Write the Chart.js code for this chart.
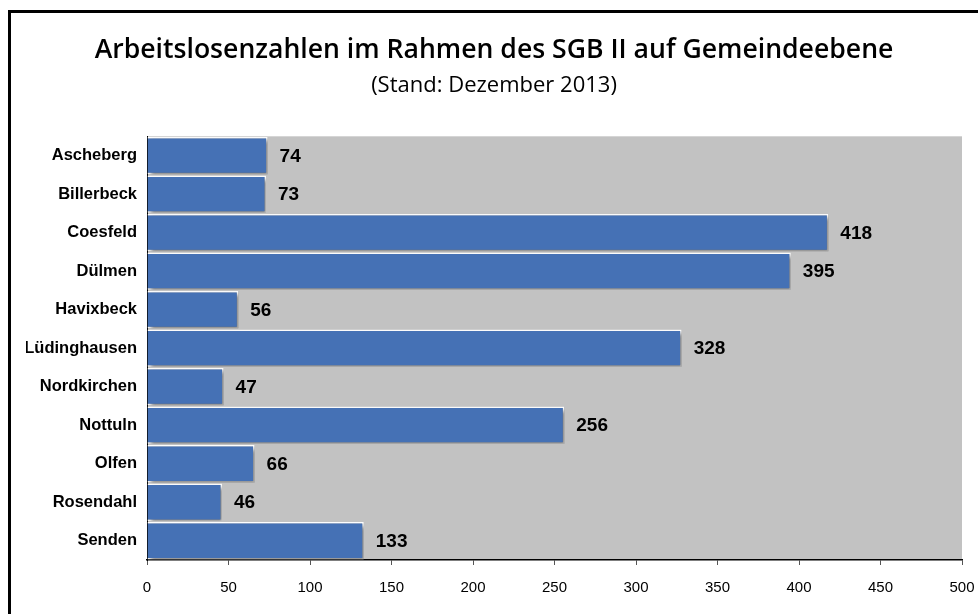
<!DOCTYPE html>
<html>
<head>
<meta charset="utf-8">
<script src="https://cdn.jsdelivr.net/npm/chart.js@4"></script>
<style>
  html, body { margin: 0; padding: 0; background: #fff; }
  #wrap { width: 978px; height: 614px; position: relative; }
</style>
</head>
<body>
<div id="wrap"><canvas id="chart" width="978" height="614"></canvas></div>
<script>
// Arbeitslosenzahlen SGB II, Gemeinden Kreis Coesfeld, Dezember 2013
const GEMEINDEN = ["Ascheberg", "Billerbeck", "Coesfeld", "Dülmen", "Havixbeck", "Lüdinghausen",
  "Nordkirchen", "Nottuln", "Olfen", "Rosendahl", "Senden"];
const ARBEITSLOSE = [74, 73, 418, 395, 56, 328, 47, 256, 66, 46, 133];
const X_MIN = 0, X_MAX = 500, X_STEP = 50;

const TITLE = "Arbeitslosenzahlen im Rahmen des SGB II auf Gemeindeebene";
const SUBTITLE = "(Stand: Dezember 2013)";

const BAR_BLUE = "#4571b5";
const PLOT_GRAY = "#c2c2c2";

// Rahmen + grauer Plotbereich
const background = {
  id: "background",
  beforeDraw(chart) {
    const { ctx, chartArea: a } = chart;
    ctx.save();
    ctx.fillStyle = PLOT_GRAY;
    ctx.fillRect(a.left, a.top, a.right - a.left, a.bottom - a.top);
    ctx.strokeStyle = "#000";
    ctx.lineWidth = 3;
    ctx.strokeRect(9.5, 11.5, 1200, 800);
    ctx.restore();
  },
};

// Schatten unter den Balken
const barShadow = {
  id: "barShadow",
  beforeDatasetsDraw(chart) {
    const ctx = chart.ctx;
    ctx.save();
    ctx.shadowColor = "rgba(0,0,0,0.45)";
    ctx.shadowBlur = 4;
    ctx.shadowOffsetX = 3;
    ctx.shadowOffsetY = 3;
  },
  afterDatasetsDraw(chart) {
    chart.ctx.restore();
  },
};

// Werte rechts neben den Balken
const valueLabels = {
  id: "valueLabels",
  afterDatasetsDraw(chart) {
    const { ctx } = chart;
    const meta = chart.getDatasetMeta(0);
    ctx.save();
    ctx.font = "bold 19px 'Liberation Sans', Arial, sans-serif";
    ctx.fillStyle = "#000";
    ctx.textAlign = "left";
    ctx.textBaseline = "middle";
    meta.data.forEach((bar, i) => {
      ctx.fillText(String(ARBEITSLOSE[i]), bar.x + 12, bar.y + 1);
    });
    ctx.restore();
  },
};

new Chart(document.getElementById("chart"), {
  type: "bar",
  data: {
    labels: GEMEINDEN,
    datasets: [{
      data: ARBEITSLOSE,
      backgroundColor: BAR_BLUE,
      borderColor: "#ffffff",
      borderWidth: 1.5,
      borderSkipped: "start",
      categoryPercentage: 1.0,
      barPercentage: 0.97,
    }],
  },
  options: {
    indexAxis: "y",
    responsive: false,
    animation: false,
    layout: { padding: { left: 26, right: 16, top: 0, bottom: 0 } },
    plugins: {
      legend: { display: false },
      tooltip: { enabled: false },
      title: {
        display: true,
        text: TITLE,
        color: "#000",
        font: { family: "'Open Sans', sans-serif", size: 26.6, weight: "600", lineHeight: 1.2 },
        padding: { top: 34, bottom: 7 },
      },
      subtitle: {
        display: true,
        text: SUBTITLE,
        color: "#000",
        font: { family: "'Open Sans', sans-serif", size: 22, weight: "normal", lineHeight: 1.2 },
        padding: { top: 0, bottom: 37 },
      },
    },
    scales: {
      x: {
        min: X_MIN,
        max: X_MAX,
        afterFit: s => { s.height = 54; s.paddingLeft = 0; s.paddingRight = 0; },
        ticks: {
          stepSize: X_STEP,
          color: "#000",
          padding: 14,
          font: { family: "'Liberation Sans', Arial, sans-serif", size: 15 },
        },
        grid: { drawOnChartArea: false, drawTicks: true, tickLength: 5, color: "#555" },
        border: { display: true, color: "#000", width: 1.5 },
      },
      y: {
        afterFit: s => { s.width = 121; s.paddingTop = 0; s.paddingBottom = 0; },
        ticks: {
          color: "#000",
          padding: 10,
          font: { family: "'Liberation Sans', Arial, sans-serif", size: 16.5, weight: "bold" },
        },
        grid: { display: false, drawTicks: false },
        border: { display: true, color: "#000", width: 1 },
      },
    },
  },
  plugins: [background, barShadow, valueLabels],
});
</script>
</body>
</html>
